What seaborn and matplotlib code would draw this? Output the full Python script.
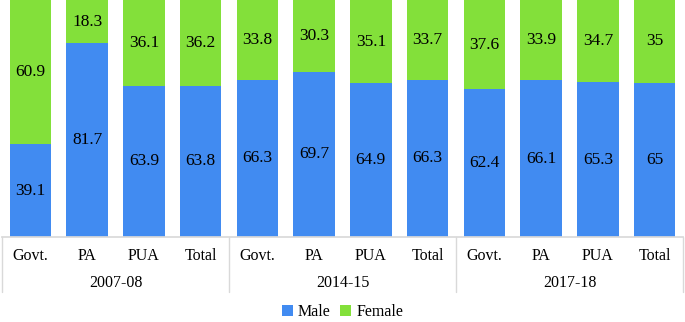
import numpy as np
import pandas as pd
import seaborn as sb
import matplotlib.pyplot as plt

years = ['2007-08', '2014-15', '2017-18']
types = ['Govt.', 'PA', 'PUA', 'Total']
male = [39.1, 81.7, 63.9, 63.8, 66.3, 69.7, 64.9, 66.3, 62.4, 66.1, 65.3, 65]
female = [60.9, 18.3, 36.1, 36.2, 33.8, 30.3, 35.1, 33.7, 37.6, 33.9, 34.7, 35]

BLUE = '#418BF1'
GREEN = '#83E03A'

sb.set_theme(style='white')
plt.rcParams['font.family'] = ['Liberation Serif', 'DejaVu Serif']
plt.rcParams['text.color'] = 'black'
plt.rcParams['xtick.color'] = 'black'

data = pd.DataFrame({
    'pos': [str(i) for i in range(len(male))],
    'male': male,
    'female': female,
})
data['total'] = data['male'] + data['female']

fig = plt.figure(figsize=(6.85, 3.22), dpi=100)
axs = fig.add_axes([2 / 685, 1 - 237 / 322, 681 / 685, 237 / 322])

sb.barplot(data=data, x='pos', y='total', color=GREEN, saturation=1,
           width=0.73, linewidth=0, ax=axs, label='Female')
sb.barplot(data=data, x='pos', y='male', color=BLUE, saturation=1,
           width=0.73, linewidth=0, ax=axs, label='Male')

for i, (m, f) in enumerate(zip(male, female)):
    axs.text(i, m / 2, '{:g}'.format(m), ha='center', va='center', fontsize=12.5)
    axs.text(i, m + f / 2, '{:g}'.format(f), ha='center', va='center', fontsize=12.5)

axs.set_xlim(-0.5, len(male) - 0.5)
axs.set_ylim(0, 100)
axs.set_xlabel('')
axs.set_ylabel('')
axs.set_yticks([])
axs.set_xticks(range(len(male)))
axs.set_xticklabels(types * len(years), fontsize=11.5)
axs.tick_params(axis='x', length=0, pad=8)
for side in ['left', 'right', 'top']:
    axs.spines[side].set_visible(False)
axs.spines['bottom'].set_color('#d9d9d9')

# group separators and year labels
trans = axs.get_xaxis_transform()
for k in range(len(years) + 1):
    x = k * 4 - 0.5
    axs.plot([x, x], [0, -0.232], transform=trans, color='#d9d9d9',
             lw=1, clip_on=False)
for k, yr in enumerate(years):
    axs.text(k * 4 + 1.5, -0.192, yr, transform=trans, ha='center',
             va='center', fontsize=11.5)

handles, labels = axs.get_legend_handles_labels()
order = [labels.index('Male'), labels.index('Female')]
fig.legend([handles[i] for i in order], [labels[i] for i in order],
           loc='center', bbox_to_anchor=(0.5, 1 - 312 / 322), ncol=2,
           frameon=False, fontsize=11.5, handlelength=0.7, handleheight=0.7,
           handletextpad=0.3, columnspacing=0.6)
if axs.get_legend():
    axs.get_legend().remove()

plt.savefig('out.png', format='png')
